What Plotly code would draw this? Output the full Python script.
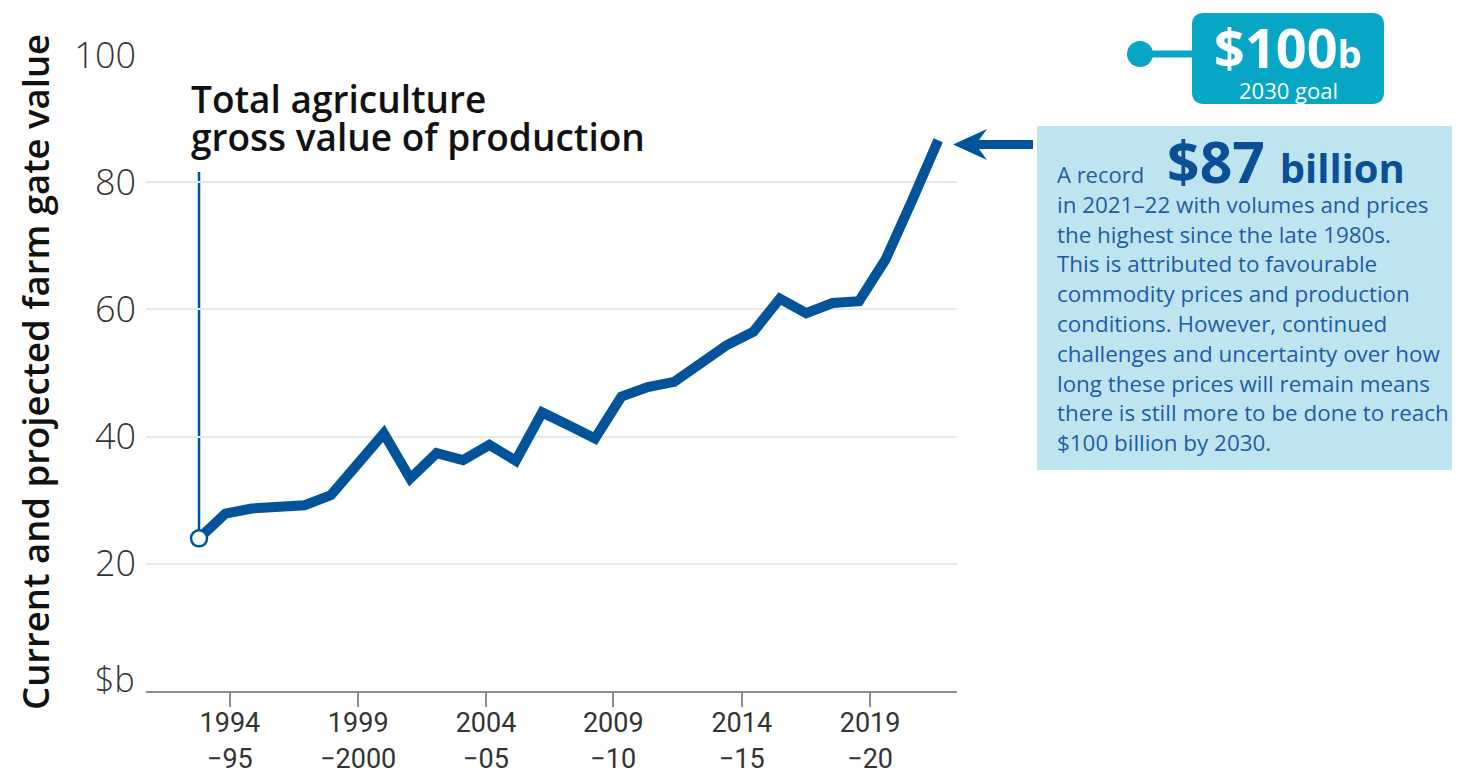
import plotly.graph_objects as go

# ---------------- data ----------------
fy_start = [1993, 1994, 1995, 1996, 1997, 1998, 1999, 2000, 2001, 2002,
            2003, 2004, 2005, 2006, 2007, 2008, 2009, 2010, 2011, 2012,
            2013, 2014, 2015, 2016, 2017, 2018, 2019, 2020, 2021]
gvp_billion = [24.0, 27.9, 28.7, 29.0, 29.2, 30.8, 35.7, 40.5, 33.4, 37.4,
               36.3, 38.7, 36.2, 43.8, 41.8, 39.7, 46.3, 47.8, 48.6, 51.6,
               54.4, 56.5, 61.7, 59.4, 61.0, 61.3, 67.8, 77.0, 86.6]
y_tick_vals = [0, 20, 40, 60, 80, 100]
y_tick_text = ["", "20", "40", "60", "80", "100"]
y_unit = "$b"
x_tick_text = ["1994<br>\u221295", "1999<br>\u22122000", "2004<br>\u221205",
               "2009<br>\u221210", "2014<br>\u221215", "2019<br>\u221220"]
leader_top = 81.6

title_lines = ["Total agriculture", "gross value of production"]
y_title = "Current and projected farm gate value"
body_lines = [
    "in 2021\u201322 with volumes and prices",
    "the highest since the late 1980s.",
    "This is attributed to favourable",
    "commodity prices and production",
    "conditions. However, continued",
    "challenges and uncertainty over how",
    "long these prices will remain means",
    "there is still more to be done to reach",
    "$100 billion by 2030.",
]

# ---------------- style / layout ----------------
OFF = 8                                  # page body margin
W, H = 1460 - 2 * OFF, 781 - 2 * OFF
PL, PR, PT, PB = 146, 957, 55, 691       # plot area in page pixels
LINE = "#02539a"
TEXT_BLUE = "#1f5ca4"
DARK_BLUE = "#0b4f96"
BOX = "#bee5ef"
TEAL = "#06a6c4"
FONT = "Open Sans"
x_range = [1990.992, 2021.712]
x_tick_pos = [1994.17, 1999.03, 2003.87, 2008.69, 2013.56, 2018.42]


def px(xp):
    return (xp - PL) / (PR - PL)


def py(yp):
    return (PB - yp) / (PB - PT)


def rrect(x0, y0, x1, y1, r):
    pts = [
        f"M{px(x0 + r)},{py(y0)}",
        f"L{px(x1 - r)},{py(y0)}",
        f"Q{px(x1)},{py(y0)} {px(x1)},{py(y0 + r)}",
        f"L{px(x1)},{py(y1 - r)}",
        f"Q{px(x1)},{py(y1)} {px(x1 - r)},{py(y1)}",
        f"L{px(x0 + r)},{py(y1)}",
        f"Q{px(x0)},{py(y1)} {px(x0)},{py(y1 - r)}",
        f"L{px(x0)},{py(y0 + r)}",
        f"Q{px(x0)},{py(y0)} {px(x0 + r)},{py(y0)}",
        "Z",
    ]
    return " ".join(pts)


fig = go.Figure()

fig.add_trace(go.Scatter(
    x=fy_start, y=gvp_billion, mode="lines",
    line=dict(color=LINE, width=10), hoverinfo="skip", showlegend=False,
))
fig.add_trace(go.Scatter(
    x=fy_start[:1], y=gvp_billion[:1], mode="markers",
    marker=dict(size=16, color="white", line=dict(color=LINE, width=2.5)),
    hoverinfo="skip", showlegend=False,
))

shapes = [
    dict(type="line", xref="x", yref="y", x0=fy_start[0], x1=fy_start[0],
         y0=gvp_billion[0], y1=leader_top, line=dict(color=LINE, width=2.5),
         layer="below"),
    dict(type="rect", xref="paper", yref="paper", x0=px(1037), x1=px(1475),
         y0=py(470), y1=py(126), fillcolor=BOX, line=dict(width=0), layer="below"),
    dict(type="path", xref="paper", yref="paper", path=rrect(1192, 13, 1384, 104, 12),
         fillcolor=TEAL, line=dict(width=0)),
    dict(type="line", xref="paper", yref="paper", x0=px(1150), x1=px(1194),
         y0=py(54), y1=py(54), line=dict(color=TEAL, width=7)),
    dict(type="circle", xref="paper", yref="paper", x0=px(1127), x1=px(1153),
         y0=py(67), y1=py(41), fillcolor=TEAL, line=dict(width=0)),
    dict(type="path", xref="paper", yref="paper",
         path=(f"M{px(953)},{py(144.5)} L{px(987)},{py(129)} L{px(979)},{py(140)} "
               f"L{px(1033)},{py(140)} L{px(1033)},{py(149)} L{px(979)},{py(149)} "
               f"L{px(987)},{py(160)} Z"),
         fillcolor=LINE, line=dict(width=0)),
]

annotations = [
    dict(text=title_lines[0], xref="paper", yref="paper", x=px(189), y=py(98),
         xanchor="left", yanchor="middle", showarrow=False,
         font=dict(family=FONT, size=37, color="#111111", weight=600)),
    dict(text=title_lines[1], xref="paper", yref="paper", x=px(189), y=py(136),
         xanchor="left", yanchor="middle", showarrow=False,
         font=dict(family=FONT, size=37, color="#111111", weight=600)),
    dict(text=y_title, xref="paper", yref="paper", x=px(35), y=py(372),
         xanchor="center", yanchor="middle", textangle=-90, showarrow=False,
         font=dict(family=FONT, size=36.5, color="#111111", weight=600)),
    dict(text=y_unit, xref="paper", yref="paper", x=px(137), y=py(679),
         xanchor="right", yanchor="middle", showarrow=False,
         font=dict(family=FONT, size=34, color="#333333", weight=300)),
    dict(text=("A record&nbsp;&nbsp;&nbsp;&nbsp;"
               f"<span style='font-size:57px;color:{DARK_BLUE}'><b>$87&nbsp;</b></span>"
               f"<span style='font-size:40px;color:{DARK_BLUE}'><b>billion</b></span>"),
         xref="paper", yref="paper", x=px(1055), y=py(161),
         xanchor="left", yanchor="middle", showarrow=False,
         font=dict(family=FONT, size=22, color=TEXT_BLUE)),
    dict(text="<b>$100</b><span style='font-size:38px'><b>b</b></span>",
         xref="paper", yref="paper", x=px(1288), y=py(47),
         xanchor="center", yanchor="middle", showarrow=False,
         font=dict(family=FONT, size=54, color="white")),
    dict(text="2030 goal", xref="paper", yref="paper", x=px(1288), y=py(90),
         xanchor="center", yanchor="middle", showarrow=False,
         font=dict(family=FONT, size=22, color="white")),
]
for i, line in enumerate(body_lines):
    annotations.append(dict(
        text=line, xref="paper", yref="paper", x=px(1055), y=py(204.3 + 29.8 * i),
        xanchor="left", yanchor="middle", showarrow=False,
        font=dict(family=FONT, size=22.4, color=TEXT_BLUE)))

fig.update_layout(
    width=W, height=H,
    margin=dict(l=PL - OFF, r=W - (PR - OFF), t=PT - OFF, b=H - (PB - OFF), pad=0),
    paper_bgcolor="white", plot_bgcolor="white",
    showlegend=False,
    shapes=shapes, annotations=annotations,
    xaxis=dict(range=x_range, showgrid=False, zeroline=False, automargin=False,
               showline=True, linecolor="#8c8c8c", linewidth=2,
               ticks="outside", ticklen=14, tickwidth=2, tickcolor="#8c8c8c",
               ticklabelstandoff=-7,
               tickmode="array", tickvals=x_tick_pos, ticktext=x_tick_text,
               tickfont=dict(family="Liberation Sans Narrow, Roboto", size=27, color="#333333")),
    yaxis=dict(range=[0, 100], showgrid=True, gridcolor="#e8e8e8", gridwidth=1.5,
               zeroline=False, showline=False, ticks="", automargin=False,
               tickmode="array", tickvals=y_tick_vals, ticktext=y_tick_text,
               ticklabelstandoff=9,
               tickfont=dict(family=FONT, size=36, color="#333333", weight=300)),
)

fig.write_html("out.html")
